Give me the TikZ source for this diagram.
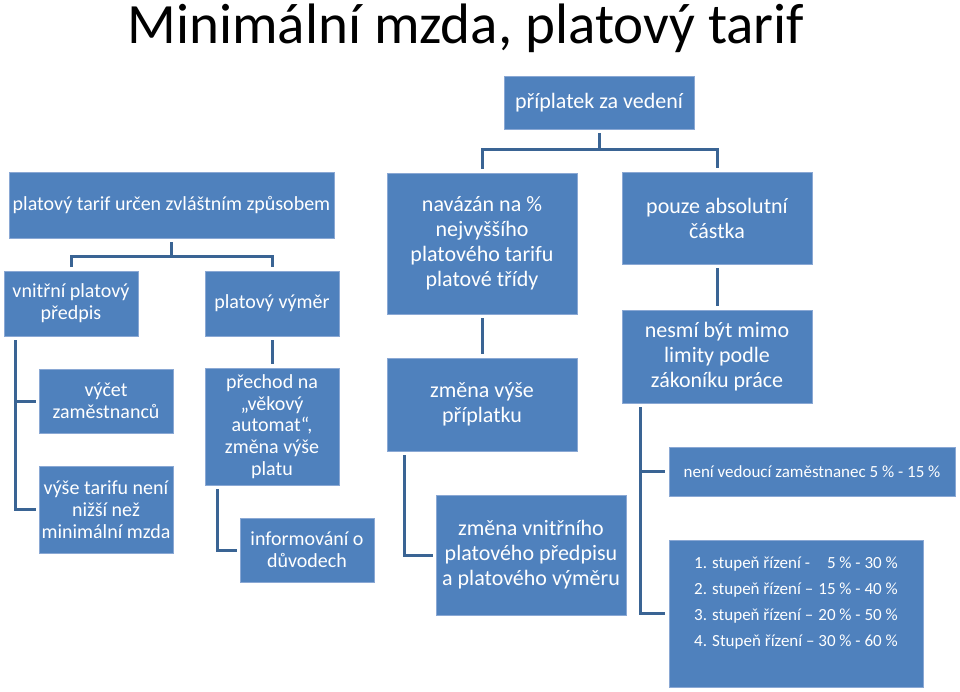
\documentclass[tikz,border=0pt]{standalone}
\usepackage{fontspec}
\setmainfont{Carlito}
\usetikzlibrary{calc}
\definecolor{boxblue}{HTML}{4F81BD}
\definecolor{boxedge}{HTML}{8AA8D4}
\definecolor{linkblue}{HTML}{3A6494}

\tikzset{
  tbox/.style={fill=boxblue, draw=boxedge, line width=0.8pt, text=white, align=center, inner sep=0pt},
  bigtxt/.style={font=\fontsize{22}{25}\selectfont},
  midtxt/.style={font=\fontsize{20}{21.8}\selectfont},
  smalltxt/.style={font=\fontsize{17}{20}\selectfont},
  link/.style={draw=linkblue, line width=3pt, shorten <=4pt, shorten >=4pt}
}

\begin{document}
\begin{tikzpicture}[x=1pt, y=-1pt]
\useasboundingbox (0,0) rectangle (960,691);

% Title
\node[font=\fontsize{57}{61}\selectfont, anchor=base, inner sep=0pt] (title) at (466,43)
  {Minimální mzda, platový tarif};

% Left tree: platovy tarif
\node[tbox, midtxt, minimum width=325pt, minimum height=66pt] (tarif) at (171.5,205)
  {platový tarif určen zvláštním způsobem};
\node[tbox, midtxt, minimum width=134pt, minimum height=65pt] (vnitrni) at (71,303.5)
  {vnitřní platový\\předpis};
\node[tbox, midtxt, minimum width=134pt, minimum height=65pt] (vymer) at (272,303.5)
  {platový výměr};
\node[tbox, midtxt, minimum width=134pt, minimum height=64pt] (vycet) at (106,401)
  {výčet\\zaměstnanců};
\node[tbox, midtxt, minimum width=134pt, minimum height=87pt] (vyse) at (106,509.5)
  {výše tarifu není\\nižší než\\minimální mzda};
\node[tbox, midtxt, minimum width=134pt, minimum height=117pt] (prechod) at (272,426.5)
  {přechod na\\„věkový\\automat“,\\změna výše\\platu};
\node[tbox, midtxt, minimum width=134pt, minimum height=64pt] (inform) at (307,550)
  {informování o\\důvodech};

% Right tree: priplatek za vedeni
\node[tbox, bigtxt, minimum width=190pt, minimum height=53pt] (prip) at (599,102.5)
  {příplatek za vedení};
\node[tbox, bigtxt, minimum width=190pt, minimum height=141pt] (navazan) at (482,243.5)
  {navázán na \%\\nejvyššího\\platového tarifu\\platové třídy};
\node[tbox, bigtxt, minimum width=190pt, minimum height=92pt] (pouze) at (717,218)
  {pouze absolutní\\částka};
\node[tbox, bigtxt, minimum width=190pt, minimum height=93pt] (zmenaprip) at (482,404.5)
  {změna výše\\příplatku};
\node[tbox, bigtxt, minimum width=190pt, minimum height=93pt] (nesmi) at (717,356.5)
  {nesmí být mimo\\limity podle\\zákoníku práce};
\node[tbox, bigtxt, minimum width=190pt, minimum height=120pt] (zmenavnitr) at (531,555)
  {změna vnitřního\\platového předpisu\\a platového výměru};
\node[tbox, smalltxt, minimum width=286pt, minimum height=49pt] (neni) at (812,471.5)
  {není vedoucí zaměstnanec 5 \% - 15 \%};
\node[tbox, smalltxt, minimum width=254pt, minimum height=147pt] (stupne) at (796,613.5)
  {\begin{tabular}{@{}l@{}r@{}}
   1. stupeň řízení - & ~5 \% - 30 \%\\[6pt]
   2. stupeň řízení – & ~15 \% - 40 \%\\[6pt]
   3. stupeň řízení – & ~20 \% - 50 \%\\[6pt]
   4. Stupeň řízení – & ~30 \% - 60 \%\\[20pt]
   \end{tabular}};

% Connectors, left tree
\draw[link] (tarif.south) -- ++(0,18) -| (vnitrni.north);
\draw[link] (tarif.south) -- ++(0,18) -| (vymer.north);
\draw[link, shorten >=3pt] ([xshift=12pt]vnitrni.south west) |- (vycet.west);
\draw[link, shorten >=3pt] ([xshift=12pt]vnitrni.south west) |- (vyse.west);
\draw[link] (vymer) -- (prechod);
\draw[link, shorten >=3pt] ([xshift=13pt]prechod.south west) |- (inform.west);

% Connectors, right tree
\draw[link] (prip.south) -- ++(0,20) -| (navazan.north);
\draw[link] (prip.south) -- ++(0,20) -| (pouze.north);
\draw[link] (navazan) -- (zmenaprip);
\draw[link] (pouze) -- (nesmi);
\draw[link, shorten >=3pt] ([xshift=18pt]zmenaprip.south west) |- (zmenavnitr.west);
\draw[link, shorten >=4pt] ([xshift=19pt]nesmi.south west) |- (neni.west);
\draw[link, shorten >=4pt] ([xshift=19pt]nesmi.south west) |- (stupne.west);

\end{tikzpicture}
\end{document}
